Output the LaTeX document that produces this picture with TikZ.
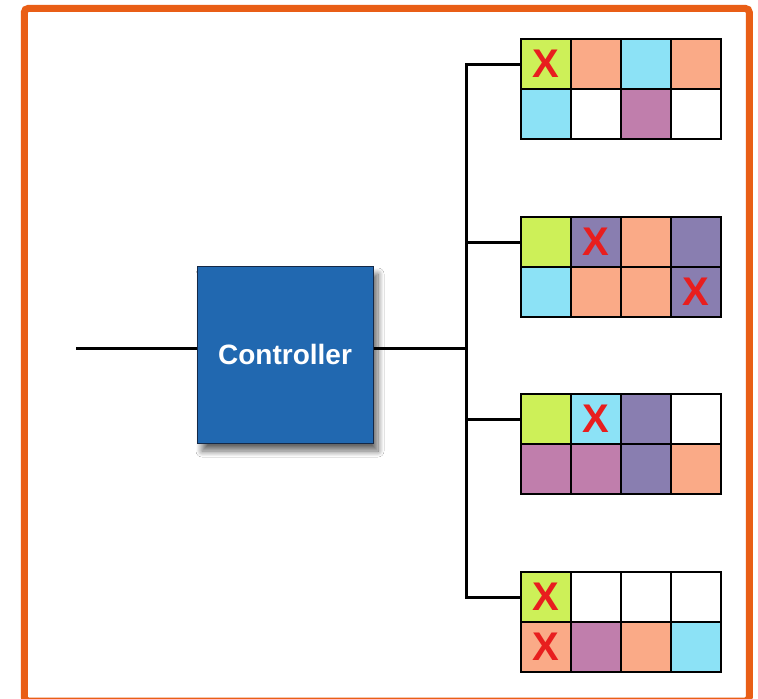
\documentclass[tikz,border=0pt]{standalone}
\usepackage{fontspec}
\setmainfont{Liberation Sans}
\usetikzlibrary{shadows.blur}
\definecolor{frameorange}{RGB}{233,94,22}
\definecolor{ctrlblue}{RGB}{33,104,176}
\definecolor{ctrledge}{RGB}{20,40,70}
\definecolor{lime}{RGB}{205,240,88}
\definecolor{salmon}{RGB}{250,170,135}
\definecolor{sky}{RGB}{140,226,246}
\definecolor{mauve}{RGB}{192,126,172}
\definecolor{slate}{RGB}{137,126,176}
\definecolor{xred}{RGB}{232,30,30}
\begin{document}
\begin{tikzpicture}[x=1pt,y=-1pt,
  wire/.style={draw=black,line width=3pt},
  cell/.style={draw=black,line width=1.8pt,minimum size=50pt,inner sep=0pt,
    font=\bfseries\fontsize{40}{40}\selectfont,text=xred},
  ctrlbox/.style={fill=ctrlblue,draw=ctrledge,line width=1pt,
    minimum width=176pt,minimum height=177pt,inner sep=0pt,
    text=white,font=\bfseries\fontsize{28}{28}\selectfont,
    blur shadow={shadow xshift=5pt,shadow yshift=-8pt,shadow opacity=60,
      shadow blur radius=6pt,shadow blur steps=12}}]
\useasboundingbox (0,0) rectangle (758,699);
\fill[white] (0,0) rectangle (758,699);

% outer frame
\draw[frameorange,line width=7pt,rounded corners=4pt] (24.3,8.4) rectangle (749.3,701);

% controller
\node[ctrlbox] (ctrl) at (285,354.5) {Controller};

% memory grid 1
\node[cell,fill=lime]   (g1-1-1) at (546,64) {X};
\node[cell,fill=salmon] (g1-1-2) at (596,64) {};
\node[cell,fill=sky]    (g1-1-3) at (646,64) {};
\node[cell,fill=salmon] (g1-1-4) at (696,64) {};
\node[cell,fill=sky]    (g1-2-1) at (546,114) {};
\node[cell,fill=white]  (g1-2-2) at (596,114) {};
\node[cell,fill=mauve]  (g1-2-3) at (646,114) {};
\node[cell,fill=white]  (g1-2-4) at (696,114) {};

% memory grid 2
\node[cell,fill=lime]   (g2-1-1) at (546,242) {};
\node[cell,fill=slate]  (g2-1-2) at (596,242) {X};
\node[cell,fill=salmon] (g2-1-3) at (646,242) {};
\node[cell,fill=slate]  (g2-1-4) at (696,242) {};
\node[cell,fill=sky]    (g2-2-1) at (546,292) {};
\node[cell,fill=salmon] (g2-2-2) at (596,292) {};
\node[cell,fill=salmon] (g2-2-3) at (646,292) {};
\node[cell,fill=slate]  (g2-2-4) at (696,292) {X};

% memory grid 3
\node[cell,fill=lime]   (g3-1-1) at (546,419) {};
\node[cell,fill=sky]    (g3-1-2) at (596,419) {X};
\node[cell,fill=slate]  (g3-1-3) at (646,419) {};
\node[cell,fill=white]  (g3-1-4) at (696,419) {};
\node[cell,fill=mauve]  (g3-2-1) at (546,469) {};
\node[cell,fill=mauve]  (g3-2-2) at (596,469) {};
\node[cell,fill=slate]  (g3-2-3) at (646,469) {};
\node[cell,fill=salmon] (g3-2-4) at (696,469) {};

% memory grid 4
\node[cell,fill=lime]   (g4-1-1) at (546,597) {X};
\node[cell,fill=white]  (g4-1-2) at (596,597) {};
\node[cell,fill=white]  (g4-1-3) at (646,597) {};
\node[cell,fill=white]  (g4-1-4) at (696,597) {};
\node[cell,fill=salmon] (g4-2-1) at (546,647) {X};
\node[cell,fill=mauve]  (g4-2-2) at (596,647) {};
\node[cell,fill=salmon] (g4-2-3) at (646,647) {};
\node[cell,fill=sky]    (g4-2-4) at (696,647) {};

% wiring
\coordinate (in) at (76,348);
\coordinate (bus) at (466.5,348);
\draw[wire] (in) -- (in -| ctrl.west);
\draw[wire] (ctrl.east |- in) -- (bus);
\draw[wire] (g1-1-1.west) -| (bus) |- (g4-1-1.west);
\draw[wire] (g2-1-1.west) -- (g2-1-1.west -| bus);
\draw[wire] (g3-1-1.west) -- (g3-1-1.west -| bus);
\end{tikzpicture}
\end{document}
